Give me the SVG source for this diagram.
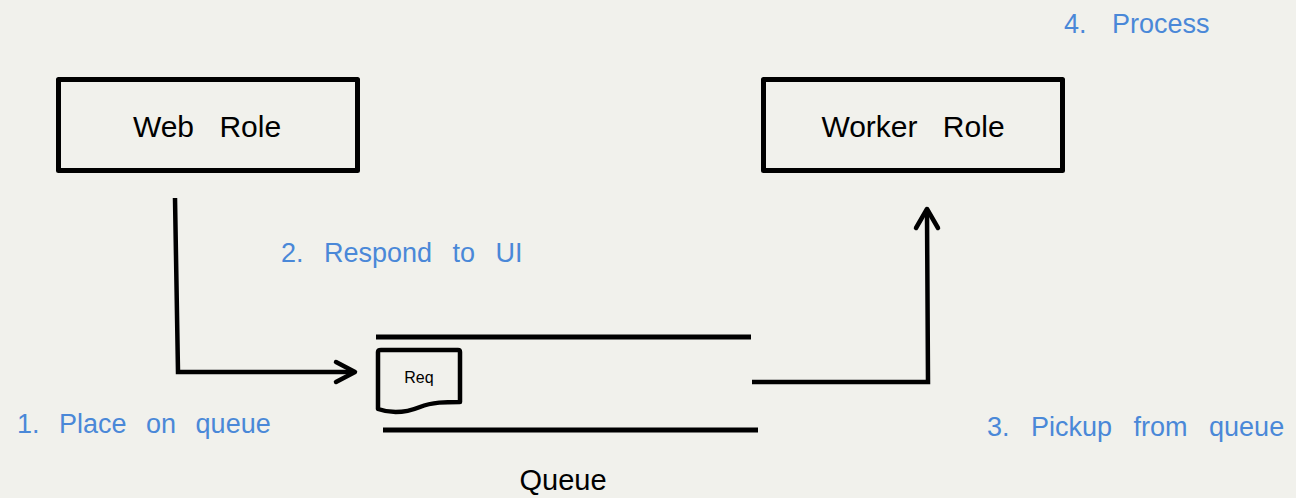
<svg xmlns="http://www.w3.org/2000/svg" width="1296" height="498" viewBox="0 0 1296 498">
  <style>
    .box { fill: none; stroke: #000; stroke-width: 5; stroke-linejoin: round; }
    .conn { fill: none; stroke: #000; stroke-width: 4.5; stroke-linejoin: miter; }
    .head { fill: none; stroke: #000; stroke-width: 4.5; stroke-linecap: round; stroke-linejoin: round; }
    .qline { stroke: #000; stroke-width: 5; }
    .node-text { font-family: "Liberation Sans", Arial, sans-serif; font-size: 30px; fill: #000; text-anchor: middle; word-spacing: 17px; }
    .label { font-family: "Liberation Sans", Arial, sans-serif; font-size: 27px; fill: #4a88d8; }
  </style>
  <rect x="0" y="0" width="1296" height="498" fill="#f1f1ec"/>

  <g id="web-role">
    <rect class="box" x="58.5" y="79.5" width="299" height="91"/>
    <text class="node-text" x="207" y="137">Web Role</text>
  </g>

  <g id="worker-role">
    <rect class="box" x="763.5" y="79.5" width="299" height="91"/>
    <text class="node-text" x="913" y="137">Worker Role</text>
  </g>

  <g id="queue">
    <line class="qline" x1="376" y1="337" x2="751" y2="337"/>
    <line class="qline" x1="383" y1="430" x2="758" y2="430"/>
    <text x="563" y="490" font-family="Liberation Sans, Arial, sans-serif" font-size="29" text-anchor="middle" fill="#000">Queue</text>
  </g>

  <g id="req">
    <path d="M378,352 Q378,350 381,350 L458,350 Q460,350 460,352 L460,402 C446,402 432,402 420,407 C405,413 392,414 378,409 Z" fill="none" stroke="#000" stroke-width="4.5" stroke-linejoin="round"/>
    <text x="419" y="383" font-family="Liberation Sans, Arial, sans-serif" font-size="16" text-anchor="middle" fill="#000">Req</text>
  </g>

  <g id="connectors">
    <polyline class="conn" points="175,198 178,372 353,372"/>
    <polyline class="head" points="336,362 355,372 336,382"/>
    <polyline class="conn" points="752,382 928,382 927,212"/>
    <polyline class="head" points="916,228 927,209 938,228"/>
  </g>

  <g id="labels">
    <text class="label" x="1064" y="33" style="word-spacing:18px">4. Process</text>
    <text class="label" x="281" y="262" style="word-spacing:13px">2. Respond to UI</text>
    <text class="label" x="17" y="433" style="word-spacing:12px">1. Place on queue</text>
    <text class="label" x="987" y="436" style="word-spacing:14px">3. Pickup from queue</text>
  </g>
</svg>
